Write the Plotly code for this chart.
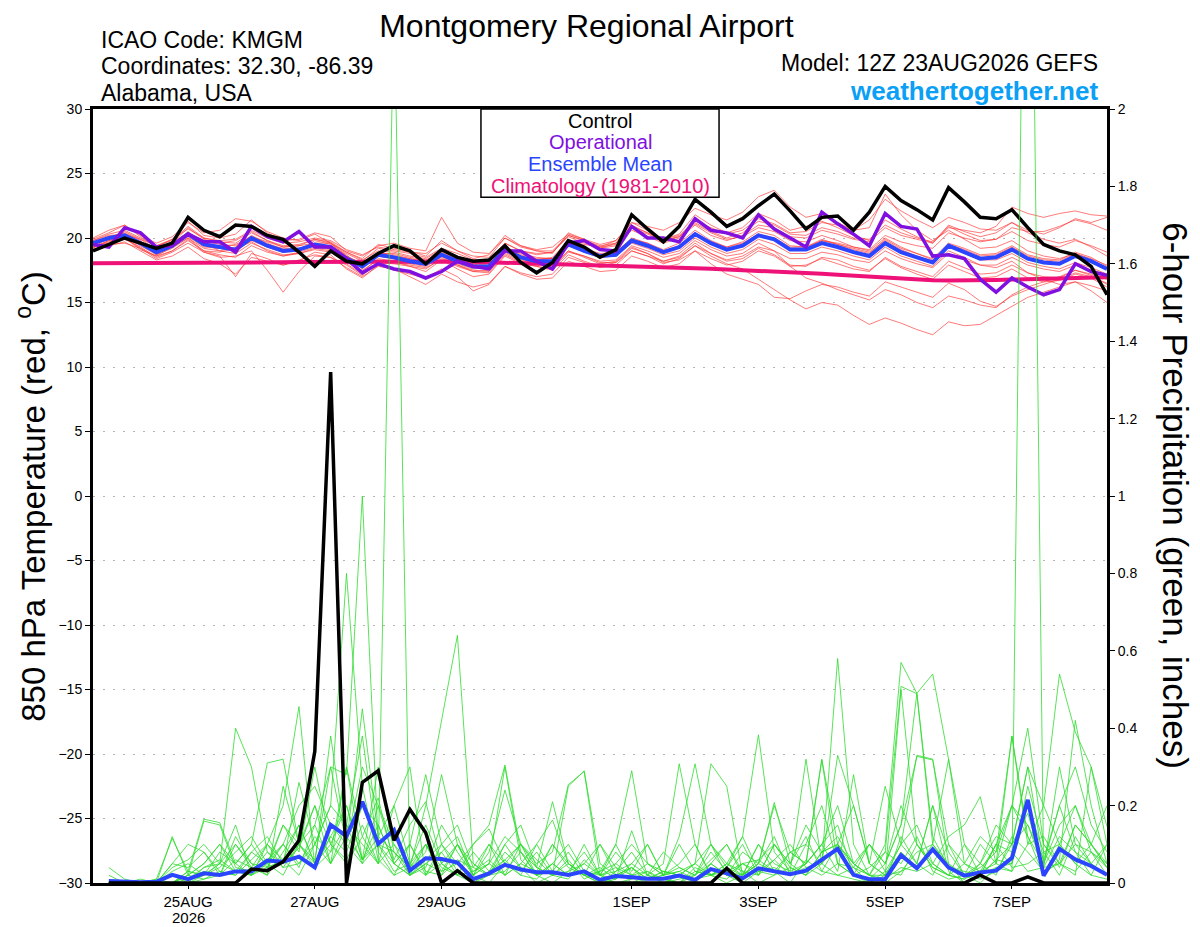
import pandas as pd
import plotly.graph_objects as go

# 6-hourly forecast times, 12Z 23AUG2026 run out to 384 h
times = pd.date_range("2026-08-23 12:00", periods=65, freq="6h")
precip_times = times[1:]

tick_dates = ["2026-08-25", "2026-08-27", "2026-08-29", "2026-09-01",
              "2026-09-03", "2026-09-05", "2026-09-07"]
tick_labels = ["25AUG", "27AUG", "29AUG", "1SEP", "3SEP", "5SEP", "7SEP"]
precip_ticks = [0, 0.2, 0.4, 0.6, 0.8, 1, 1.2, 1.4, 1.6, 1.8, 2]
precip_labels = ["0", "0.2", "0.4", "0.6", "0.8", "1", "1.2", "1.4", "1.6", "1.8", "2"]

# 850 hPa temperature (C)
control_t = [19.0, 19.5, 20.0, 19.6, 19.2, 19.6, 21.6, 20.6, 20.1, 21.0,
             20.9, 20.2, 19.9, 18.9, 17.8, 19.0, 18.2, 18.0, 18.8, 19.4,
             19.0, 18.0, 19.1, 18.5, 18.2, 18.3, 19.4, 18.1, 17.3, 18.1,
             19.8, 19.3, 18.5, 19.1, 21.8, 20.7, 19.7, 20.9, 23.0, 22.0,
             20.9, 21.5, 22.5, 23.4, 22.1, 20.7, 21.6, 21.7, 20.6, 22.0,
             24.0, 22.9, 22.2, 21.4, 23.9, 22.8, 21.6, 21.5, 22.2, 20.8,
             19.5, 19.0, 18.7, 17.8, 15.6]
oper_t = [19.5, 19.3, 20.8, 20.4, 19.3, 19.4, 20.3, 19.7, 19.7, 18.9,
          20.9, 20.1, 19.7, 20.5, 19.3, 19.3, 18.4, 17.3, 18.0, 17.6,
          17.4, 16.9, 17.4, 18.2, 17.8, 17.6, 19.0, 19.0, 18.2, 17.6,
          19.6, 19.8, 19.1, 19.0, 20.9, 20.0, 20.0, 19.7, 21.5, 20.6,
          20.4, 20.0, 21.8, 20.7, 20.0, 19.3, 22.0, 21.1, 20.3, 19.4,
          21.9, 20.9, 20.7, 18.6, 18.7, 18.4, 16.8, 15.8, 16.9, 16.2,
          15.6, 16.0, 18.0, 17.4, 17.1]
mean_t = [19.6, 20.0, 20.2, 19.6, 18.9, 19.4, 20.3, 19.5, 19.3, 19.1,
          20.0, 19.4, 19.0, 19.1, 19.5, 19.3, 18.4, 17.8, 18.7, 18.5,
          18.2, 18.0, 18.7, 18.2, 17.8, 17.8, 19.1, 18.5, 18.2, 18.2,
          19.5, 19.0, 18.6, 18.7, 19.8, 19.4, 18.9, 19.3, 20.3, 19.6,
          19.1, 19.4, 20.2, 19.9, 19.1, 19.1, 19.6, 19.3, 18.9, 18.6,
          19.6, 18.9, 18.5, 18.1, 19.4, 18.9, 18.4, 18.5, 19.1, 18.4,
          18.1, 18.0, 18.6, 18.2, 17.6]
clim_t = [18.05, 18.05, 18.06, 18.06, 18.07, 18.07, 18.08, 18.08, 18.09, 18.1,
          18.1, 18.11, 18.12, 18.13, 18.14, 18.15, 18.16, 18.17, 18.18, 18.19,
          18.2, 18.2, 18.2, 18.18, 18.15, 18.12, 18.09, 18.06, 18.03, 18.0,
          17.97, 17.94, 17.9, 17.86, 17.82, 17.78, 17.74, 17.7, 17.66, 17.62,
          17.57, 17.52, 17.48, 17.44, 17.37, 17.3, 17.22, 17.15, 17.07, 17.0,
          16.92, 16.85, 16.78, 16.72, 16.7, 16.7, 16.72, 16.75, 16.78, 16.8,
          16.83, 16.86, 16.89, 16.92, 16.95]

member_t = [
    [19.9, 20.4, 21.0, 20.2, 19.6, 20.1, 21.2, 20.4, 20.6, 21.5, 21.3, 20.5, 20.0, 19.8, 20.3, 19.6, 18.9,
     18.4, 19.5, 19.2, 19.0, 18.6, 19.8, 19.0, 18.4, 18.7, 20.2, 19.4, 19.0, 18.8, 20.4, 19.9, 19.2, 19.6,
     21.2, 20.6, 19.9, 20.3, 21.8, 21.0, 20.4, 20.8, 21.9, 21.4, 20.6, 20.9, 21.3, 20.8, 20.2, 19.8, 21.4,
     20.7, 20.1, 19.6, 21.0, 20.5, 20.1, 20.4, 21.2, 20.6, 20.3, 20.8, 21.5, 21.2, 21.6],
    [19.3, 19.8, 20.0, 19.2, 18.6, 19.0, 19.8, 19.0, 18.7, 18.5, 19.4, 18.9, 18.6, 18.8, 19.2, 19.0, 18.0,
     17.2, 18.0, 18.2, 17.8, 17.4, 18.3, 17.6, 17.0, 17.2, 18.6, 18.0, 17.8, 17.5, 18.7, 18.2, 17.8, 18.1,
     19.0, 18.6, 18.0, 18.4, 19.4, 18.6, 18.0, 17.6, 16.8, 16.0, 15.2, 14.5, 15.0, 14.8, 14.0, 13.3, 13.8,
     13.4, 12.9, 12.5, 13.5, 13.2, 13.3, 14.0, 14.7, 15.4, 15.8, 16.2, 16.6, 16.3, 15.9],
    [19.5, 20.1, 20.4, 19.8, 18.7, 19.5, 20.5, 19.6, 19.0, 19.3, 20.2, 19.6, 19.1, 19.0, 19.8, 19.5, 18.7,
     17.6, 18.9, 18.7, 18.4, 18.2, 19.0, 18.5, 18.0, 17.6, 19.3, 18.7, 18.4, 18.4, 19.8, 19.2, 18.7, 18.9,
     20.0, 19.6, 19.1, 19.6, 20.6, 19.8, 19.3, 19.7, 20.5, 20.2, 19.4, 19.3, 19.9, 19.5, 19.1, 18.8, 19.9,
     19.2, 18.8, 18.4, 19.6, 19.2, 18.7, 18.8, 19.4, 18.7, 18.4, 18.3, 18.9, 18.5, 17.8],
    [19.7, 20.0, 20.3, 19.7, 19.2, 19.6, 20.8, 19.9, 19.6, 19.8, 20.5, 19.8, 19.3, 19.4, 19.9, 19.6, 18.8,
     18.2, 19.2, 19.0, 18.8, 18.5, 19.2, 18.8, 18.3, 18.2, 19.6, 19.0, 18.8, 18.9, 20.1, 19.6, 19.2, 19.4,
     20.6, 20.1, 19.6, 20.0, 21.0, 20.2, 19.8, 20.2, 21.0, 20.8, 20.1, 20.0, 20.6, 20.3, 19.9, 19.7, 20.8,
     20.2, 19.9, 19.6, 20.8, 20.6, 20.4, 20.9, 22.4, 21.9, 21.6, 21.9, 22.1, 21.8, 21.7],
    [19.4, 19.6, 19.9, 19.3, 18.5, 19.0, 19.9, 18.9, 18.6, 17.0, 18.8, 18.4, 17.9, 18.2, 18.9, 18.7, 17.6,
     16.9, 17.9, 17.5, 17.2, 16.9, 17.6, 17.0, 15.9, 16.4, 17.8, 17.2, 16.8, 16.9, 18.2, 17.8, 17.4, 17.5,
     18.6, 18.2, 17.7, 18.0, 19.0, 18.4, 17.9, 18.2, 19.0, 18.6, 17.8, 17.9, 18.4, 18.0, 17.6, 17.4, 18.5,
     17.8, 17.4, 17.0, 18.2, 17.7, 17.2, 17.3, 17.9, 17.3, 17.0, 16.9, 17.5, 17.1, 16.4],
    [19.0, 19.5, 19.6, 19.2, 18.4, 18.9, 19.6, 18.9, 18.5, 18.6, 19.0, 17.5, 15.8, 17.4, 18.6, 18.5, 17.9,
     17.1, 18.1, 18.0, 17.8, 17.6, 18.4, 17.9, 17.4, 17.3, 18.7, 18.1, 17.8, 17.6, 18.9, 18.6, 18.2, 18.3,
     19.4, 19.0, 18.5, 18.8, 19.8, 19.1, 18.6, 18.8, 19.6, 19.0, 17.8, 16.9, 16.5, 16.0, 15.6, 15.2, 16.0,
     15.6, 15.0, 14.6, 15.5, 15.2, 14.8, 14.6, 15.6, 16.2, 16.6, 17.0, 17.5, 17.2, 16.8],
    [20.0, 20.6, 21.0, 20.1, 19.3, 19.9, 21.3, 20.2, 20.0, 20.3, 21.4, 20.4, 19.8, 19.9, 20.4, 20.1, 19.0,
     18.6, 19.4, 19.6, 19.2, 19.0, 21.6, 19.6, 18.9, 18.8, 20.0, 19.3, 19.0, 19.0, 20.2, 19.8, 19.3, 19.5,
     20.8, 20.3, 19.8, 20.1, 21.2, 20.5, 20.0, 20.4, 21.3, 21.0, 20.3, 20.2, 20.8, 20.5, 20.0, 19.9, 21.0,
     20.4, 20.0, 19.7, 20.9, 20.3, 19.8, 19.9, 20.5, 19.8, 19.5, 19.3, 19.8, 19.4, 18.9],
    [19.2, 19.8, 20.1, 19.5, 18.8, 19.3, 20.2, 19.4, 19.2, 19.0, 19.8, 19.3, 18.9, 19.0, 19.4, 19.2, 18.3,
     17.8, 18.6, 18.4, 18.1, 17.9, 18.6, 18.1, 17.7, 17.9, 19.2, 18.6, 18.3, 18.5, 19.8, 19.5, 19.3, 19.8,
     21.2, 20.9, 20.6, 21.2, 22.3, 21.8, 21.4, 22.0, 23.2, 23.7, 22.4, 21.6, 21.9, 21.2, 20.6, 20.8, 23.4,
     21.8, 20.6, 19.8, 20.6, 19.9, 19.2, 19.3, 19.8, 19.0, 18.6, 18.4, 18.8, 18.3, 17.6],
    [19.3, 19.7, 20.0, 19.4, 18.7, 19.2, 20.0, 19.2, 19.0, 18.8, 19.6, 19.1, 18.7, 18.8, 19.1, 18.9, 18.1,
     17.5, 18.3, 18.1, 17.9, 17.7, 18.3, 17.8, 17.4, 17.5, 18.8, 18.2, 17.9, 17.8, 19.0, 18.6, 18.1, 18.1,
     19.2, 18.8, 18.1, 18.3, 19.0, 18.0, 17.2, 16.8, 16.4, 15.4, 15.3, 15.9, 16.4, 16.2, 15.8, 15.5, 16.6,
     16.2, 15.8, 15.4, 16.5, 16.0, 15.1, 14.7, 15.5, 16.0, 16.4, 16.8, 17.3, 17.0, 16.5],
    [19.8, 20.2, 20.3, 19.9, 19.1, 19.7, 20.4, 19.8, 19.5, 19.4, 20.1, 19.7, 19.3, 19.4, 19.6, 19.6, 18.6,
     18.0, 18.8, 18.8, 18.5, 18.3, 18.9, 18.4, 18.0, 18.0, 19.3, 18.8, 18.5, 18.4, 19.6, 19.2, 18.8, 18.9,
     19.9, 19.6, 19.0, 19.4, 20.4, 19.7, 19.3, 19.6, 20.3, 20.0, 19.3, 19.3, 19.8, 19.5, 19.2, 18.9, 19.8,
     19.1, 18.6, 18.2, 19.5, 19.1, 18.6, 18.7, 19.3, 18.6, 18.3, 18.2, 18.8, 18.4, 17.9],
    [19.6, 19.9, 20.1, 19.6, 19.0, 19.5, 20.3, 19.6, 19.3, 19.5, 20.1, 19.5, 19.2, 19.2, 19.5, 19.4, 18.6,
     18.0, 18.8, 18.6, 18.4, 18.1, 18.8, 18.3, 17.9, 18.0, 19.3, 18.6, 18.3, 18.4, 19.6, 19.1, 18.7, 18.8,
     19.9, 19.5, 19.0, 19.3, 20.3, 19.7, 19.2, 19.5, 20.3, 19.9, 19.2, 19.2, 19.8, 19.6, 19.3, 19.1, 20.2,
     19.7, 19.4, 19.2, 20.4, 20.0, 19.7, 19.9, 20.8, 20.5, 20.5, 20.9, 21.4, 21.1, 20.6],
    [19.5, 19.9, 20.2, 19.5, 18.9, 19.4, 20.1, 19.3, 19.2, 19.0, 19.9, 19.3, 18.9, 19.1, 19.4, 19.2, 18.4,
     17.7, 18.6, 18.4, 18.1, 17.9, 18.6, 18.0, 17.6, 17.7, 19.0, 18.4, 18.0, 18.1, 19.4, 18.9, 18.5, 18.6,
     19.6, 19.2, 18.7, 19.0, 20.0, 19.3, 18.8, 19.1, 19.9, 19.5, 18.8, 18.8, 19.3, 19.0, 18.6, 18.3, 19.3,
     18.6, 18.2, 17.8, 19.0, 18.5, 17.9, 17.7, 18.2, 17.3, 16.8, 16.4, 16.6, 15.9, 15.0],
    [19.1, 19.6, 20.5, 19.9, 19.4, 19.8, 20.9, 20.0, 19.8, 19.9, 20.6, 20.0, 19.6, 19.7, 20.0, 19.8, 19.1,
     18.7, 19.3, 19.1, 18.9, 18.8, 19.6, 19.0, 18.6, 18.5, 20.0, 19.4, 19.1, 19.3, 20.3, 19.9, 19.5, 19.8,
     21.0, 20.4, 19.8, 20.1, 21.1, 20.4, 19.9, 20.1, 20.8, 20.5, 19.8, 19.7, 20.2, 19.8, 19.3, 19.0, 20.0,
     19.3, 18.8, 18.3, 19.4, 18.8, 18.3, 18.3, 18.8, 18.1, 17.8, 17.6, 18.1, 17.7, 17.2],
    [19.0, 19.4, 19.7, 19.0, 18.3, 18.6, 19.3, 18.4, 18.0, 17.2, 18.5, 18.2, 17.9, 18.3, 18.7, 18.5, 17.7,
     17.0, 17.8, 17.6, 17.0, 16.4, 17.2, 16.6, 16.2, 16.5, 17.8, 17.3, 17.0, 17.2, 18.5, 18.1, 17.7, 17.9,
     19.0, 18.6, 18.2, 18.5, 19.4, 18.8, 18.3, 18.6, 19.3, 19.0, 18.4, 18.4, 18.9, 18.7, 18.3, 18.1, 19.0,
     18.4, 18.0, 17.7, 18.8, 18.3, 17.9, 17.9, 18.5, 17.9, 17.6, 17.4, 17.9, 17.5, 17.0],
    [19.8, 20.3, 20.6, 20.0, 19.4, 19.9, 20.7, 20.0, 19.7, 19.6, 20.4, 19.8, 19.4, 19.5, 19.9, 19.7, 18.9,
     18.3, 19.0, 18.9, 18.6, 18.4, 19.1, 18.6, 18.2, 18.3, 19.6, 19.0, 18.7, 18.9, 20.2, 19.8, 19.4, 19.6,
     20.9, 20.4, 19.9, 20.2, 21.3, 20.8, 20.3, 20.6, 21.5, 21.1, 20.4, 20.5, 21.2, 21.0, 20.6, 21.4, 23.0,
     22.1, 21.4, 20.8, 21.6, 21.2, 20.7, 20.6, 21.2, 20.4, 19.9, 19.6, 19.9, 19.3, 18.6],
    [19.2, 20.1, 20.0, 19.1, 18.6, 19.3, 20.0, 19.0, 18.9, 19.2, 19.7, 19.0, 18.6, 18.9, 19.3, 19.1, 18.2,
     17.4, 18.4, 18.2, 18.0, 17.8, 18.5, 17.9, 17.5, 17.4, 18.9, 18.3, 18.0, 17.7, 19.0, 18.5, 18.0, 18.2,
     19.3, 18.8, 18.2, 18.6, 19.6, 18.8, 18.2, 18.4, 19.2, 18.7, 17.9, 17.8, 18.5, 18.3, 17.8, 17.5, 18.4,
     17.7, 17.2, 16.8, 17.9, 17.4, 16.9, 17.0, 17.6, 16.9, 16.6, 16.7, 17.2, 16.9, 16.2],
]

# 6-hour precipitation (inches), valid 18Z 23AUG onward
control_p = [0, 0, 0, 0, 0, 0, 0, 0, 0, 0.036,
             0.032, 0.055, 0.11, 0.34, 1.32, 0, 0.26, 0.29, 0.11, 0.19,
             0.13, 0, 0.032, 0, 0, 0, 0, 0, 0, 0,
             0, 0, 0, 0, 0, 0, 0, 0, 0, 0.038,
             0, 0, 0, 0, 0, 0, 0, 0, 0, 0,
             0, 0, 0, 0, 0, 0.02, 0, 0, 0.016, 0,
             0, 0, 0, 0]
mean_p = [0.005, 0.003, 0.002, 0.003, 0.021, 0.01, 0.025, 0.021, 0.03, 0.03,
          0.058, 0.055, 0.068, 0.04, 0.15, 0.121, 0.21, 0.101, 0.137, 0.032,
          0.064, 0.062, 0.053, 0.01, 0.025, 0.047, 0.035, 0.028, 0.028, 0.021,
          0.03, 0.008, 0.018, 0.015, 0.011, 0.011, 0.019, 0.008, 0.036, 0.025,
          0.012, 0.038, 0.03, 0.023, 0.032, 0.06, 0.088, 0.021, 0.01, 0.01,
          0.072, 0.038, 0.087, 0.04, 0.019, 0.027, 0.032, 0.065, 0.215, 0.019,
          0.088, 0.061, 0.044, 0.021]

member_p = [
    [0, 0, 0, 0, 0.02, 0, 0.04, 0.06, 0.03, 0.08, 0.12, 0.05, 0.09, 0.2, 0.1, 0.06, 0.15, 0.05, 2.3, 0.02,
     0.06, 0.1, 0.03, 0, 0.02, 0.08, 0.04, 0, 0.02, 0.05, 0.02, 0, 0.01, 0.04, 0, 0, 0.02, 0, 0.05, 0.02,
     0, 0.03, 0.06, 0.02, 0.05, 0.1, 0.15, 0.02, 0, 0, 0.12, 0.05, 0.2, 0.03, 0, 0.02, 0.06, 0.1, 0.18, 0.04,
     0.12, 0.08, 0.05, 0.02],
    [0, 0, 0, 0.01, 0, 0.03, 0.02, 0.08, 0.05, 0.1, 0.04, 0.15, 0.1, 0.06, 0.3, 0.1, 0.45, 0.12, 0.2, 0.05,
     0.02, 0.08, 0.12, 0.02, 0, 0.05, 0.1, 0.02, 0, 0.03, 0.08, 0.02, 0, 0.01, 0.03, 0, 0, 0.02, 0.05, 0.1,
     0.03, 0, 0.02, 0.04, 0.02, 0.08, 0.12, 0.05, 0.02, 0, 0.03, 0.08, 0.1, 0.04, 0.02, 0, 0.04, 0.03, 3.5, 0.02,
     0.1, 0.2, 0.08, 0.04],
    [0, 0, 0, 0, 0, 0, 0.02, 0.05, 0.03, 0.02, 0.06, 0.1, 0.04, 0.15, 0.3, 0.28, 1.0, 0.1, 0.05, 0.02,
     0.1, 0.04, 0.02, 0, 0.03, 0.06, 0.02, 0.01, 0.05, 0.02, 0.03, 0.01, 0, 0, 0.02, 0.01, 0, 0.03, 0.02, 0,
     0.02, 0.05, 0.03, 0, 0.06, 0.03, 0.1, 0.04, 0, 0.02, 0.5, 0.1, 0.04, 0.02, 0.01, 0.03, 0.05, 0.38, 0.12, 0.02,
     0.06, 0.42, 0.2, 0.05],
    [0.04, 0.01, 0, 0, 0.12, 0.02, 0.16, 0.15, 0.04, 0.03, 0.08, 0.05, 0.26, 0.1, 0.2, 0.8, 0.25, 0.06, 0.02, 0.1,
     0.02, 0.05, 0.1, 0.03, 0.05, 0.12, 0.08, 0.02, 0.1, 0.04, 0.02, 0, 0.03, 0.08, 0.02, 0, 0.01, 0.02, 0.08, 0.03,
     0.02, 0.1, 0.05, 0.03, 0.32, 0.05, 0.02, 0.01, 0, 0.03, 0.1, 0.33, 0.32, 0.05, 0, 0.02, 0.1, 0.08, 0.03, 0.04,
     0.3, 0.1, 0.05, 0.02],
    [0, 0, 0, 0, 0, 0.03, 0.02, 0.05, 0.1, 0.04, 0.02, 0.08, 0.15, 0.05, 0.1, 0.2, 0.06, 0.12, 0.08, 0.04,
     0.2, 0.42, 0.64, 0.05, 0.02, 0.03, 0.08, 0.04, 0.02, 0.06, 0.01, 0.03, 0.1, 0.02, 0.01, 0.03, 0.02, 0.01, 0.02, 0.04,
     0.1, 0.02, 0.06, 0.1, 0.04, 0.02, 0.05, 0.02, 0.04, 0.08, 0.05, 0.12, 0.03, 0.01, 0.02, 0.01, 0.03, 0.1, 0.15, 0.06,
     0.2, 0.08, 0.02, 0.01],
    [0, 0, 0.01, 0, 0.05, 0.04, 0.08, 0.03, 0.02, 0.06, 0.1, 0.2, 0.456, 0.04, 0.08, 0.3, 0.12, 0.05, 0.1, 0.02,
     0.04, 0.15, 0.08, 0.02, 0.1, 0.05, 0.03, 0.08, 0.02, 0.01, 0.06, 0.02, 0.04, 0, 0.01, 0.02, 0.03, 0.05, 0.02, 0.01,
     0.05, 0.03, 0.02, 0.08, 0.1, 0.2, 0.05, 0.04, 0.02, 0.1, 0.57, 0.49, 0.12, 0.04, 0.03, 0.02, 0.06, 0.05, 0.25, 0.1,
     0.04, 0.15, 0.1, 0.04],
    [0, 0, 0, 0, 0.02, 0.01, 0.04, 0.05, 0.4, 0.3, 0.08, 0.04, 0.1, 0.2, 0.05, 0.15, 0.38, 0.08, 0.02, 0.04,
     0.08, 0.28, 0.1, 0.02, 0.05, 0.3, 0.06, 0.02, 0.03, 0.08, 0.02, 0.01, 0.05, 0.02, 0.03, 0.01, 0, 0.04, 0.02, 0.05,
     0.12, 0.03, 0.04, 0.02, 0.1, 0.05, 0.58, 0.1, 0.02, 0.01, 0.04, 0.03, 0.05, 0.02, 0.01, 0.05, 0.02, 0.12, 0.08, 0.03,
     0.05, 0.02, 0.3, 0.1],
    [0, 0, 0, 0, 0, 0.02, 0.05, 0.1, 0.05, 0.1, 0.31, 0.32, 0.1, 0.05, 0.12, 0.08, 0.2, 0.15, 0.05, 0.1,
     0.03, 0.02, 0.1, 0.05, 0.02, 0.1, 0.15, 0.04, 0.02, 0.25, 0.29, 0.05, 0.02, 0.04, 0.01, 0.02, 0.1, 0.03, 0.02, 0.04,
     0.02, 0.05, 0.2, 0.08, 0.05, 0.32, 0.1, 0.02, 0.01, 0.05, 0.15, 0.49, 0.54, 0.32, 0.1, 0.02, 0.04, 0.05, 0.2, 0.08,
     0.1, 0.05, 0.1, 0.04],
    [0, 0, 0, 0.01, 0.115, 0.03, 0.165, 0.156, 0.05, 0.02, 0.04, 0.06, 0.02, 0.1, 0.05, 0.12, 0.06, 0.3, 0.08, 0.04,
     0.1, 0.03, 0.05, 0.1, 0.15, 0.305, 0.08, 0.02, 0.05, 0.1, 0.03, 0.02, 0.01, 0.05, 0.1, 0.02, 0.12, 0.308, 0.1, 0.02,
     0.05, 0.06, 0.03, 0.02, 0.04, 0.05, 0.33, 0.2, 0.05, 0.02, 0.08, 0.04, 0.1, 0.32, 0.05, 0.03, 0.1, 0.04, 0.05, 0.08,
     0.02, 0.12, 0.05, 0.1],
    [0, 0, 0, 0, 0, 0.01, 0.03, 0.02, 0.06, 0.04, 0.1, 0.06, 0.15, 0.05, 0.38, 0.1, 0.05, 0.2, 0.06, 0.15,
     0.21, 0.05, 0.02, 0.03, 0.06, 0.02, 0.05, 0.1, 0.03, 0.02, 0.05, 0.1, 0.02, 0.04, 0.01, 0.03, 0.02, 0.05, 0.1, 0.04,
     0.12, 0.383, 0.08, 0.03, 0.05, 0.1, 0.03, 0.28, 0.05, 0.02, 0.03, 0.05, 0.02, 0.1, 0.02, 0.04, 0.08, 0.379, 0.1, 0.2,
     0.54, 0.39, 0.3, 0.146],
    [0, 0, 0, 0, 0, 0, 0.01, 0.02, 0.1, 0.05, 0.04, 0.1, 0.05, 0.12, 0.08, 0.15, 0.1, 0.05, 0.2, 0.3,
     0.02, 0.1, 0.15, 0.04, 0.02, 0.06, 0.1, 0.05, 0.08, 0.254, 0.288, 0.02, 0.1, 0.29, 0.05, 0.02, 0.04, 0.02, 0.06, 0.1,
     0.02, 0.05, 0.208, 0.05, 0.12, 0.03, 0.02, 0.04, 0.1, 0.03, 0.02, 0.1, 0.05, 0.12, 0.15, 0.223, 0.05, 0.03, 0.1, 0.12,
     0.05, 0.03, 0.08, 0.02],
    [0, 0, 0, 0, 0, 0.02, 0.01, 0.03, 0.02, 0.08, 0.05, 0.02, 0.1, 0.04, 0.12, 0.2, 0.06, 0.15, 0.05, 0.02,
     0.05, 0.08, 0.02, 0.1, 0.14, 0.05, 0.02, 0.1, 0.163, 0.05, 0.02, 0.04, 0.01, 0.135, 0.02, 0.05, 0.308, 0.1, 0.02, 0.05,
     0.03, 0.02, 0.1, 0.05, 0.02, 0.08, 0.1, 0.05, 0.02, 0.08, 0.508, 0.489, 0.1, 0.05, 0.02, 0.1, 0.05, 0.2, 0.15, 0.04,
     0.05, 0.1, 0.08, 0.05],
    [0, 0, 0, 0, 0.03, 0.05, 0.02, 0.04, 0.08, 0.12, 0.05, 0.15, 0.08, 0.3, 0.1, 0.05, 0.12, 0.22, 0.05, 0.1,
     0.28, 0.1, 0.05, 0.02, 0.08, 0.24, 0.1, 0.04, 0.21, 0.05, 0.02, 0.1, 0.04, 0.02, 0.05, 0.03, 0.02, 0.05, 0.308, 0.25,
     0.02, 0.1, 0.03, 0.08, 0.05, 0.318, 0.05, 0.02, 0.1, 0.05, 0.15, 0.327, 0.318, 0.1, 0.05, 0.02, 0.1, 0.2, 0.12, 0.05,
     0.2, 0.3, 0.15, 0.08],
    [0, 0, 0, 0, 0.05, 0.1, 0.08, 0.02, 0.12, 0.05, 0.02, 0.25, 0.1, 0.15, 0.05, 0.3, 0.06, 0.1, 0.08, 0.02,
     0.05, 0.03, 0.1, 0.02, 0.05, 0.02, 0.1, 0.06, 0.02, 0.03, 0.05, 0.02, 0.08, 0.03, 0.1, 0.02, 0.05, 0.1, 0.02, 0.03,
     0.05, 0.02, 0.1, 0.04, 0.02, 0.05, 0.1, 0.2, 0.05, 0.25, 0.1, 0.05, 0.2, 0.08, 0.02, 0.05, 0.12, 0.1, 0.3, 0.2,
     0.1, 0.05, 0.02, 0.1],
    [0, 0, 0, 0, 0, 0.02, 0.05, 0.1, 0.03, 0.02, 0.1, 0.04, 0.05, 0.1, 0.2, 0.15, 0.05, 0.1, 0.03, 0.05,
     0.1, 0.02, 0.06, 0.04, 0.1, 0.02, 0.05, 0.03, 0.1, 0.05, 0.02, 0.03, 0.05, 0.1, 0.05, 0.02, 0.03, 0.01, 0.05, 0.02,
     0.08, 0.05, 0.12, 0.02, 0.05, 0.1, 0.2, 0.05, 0.1, 0.05, 0.2, 0.1, 0.04, 0.02, 0.1, 0.05, 0.15, 0.1, 0.3, 0.05,
     0.15, 0.2, 0.1, 0.2],
    [0.02, 0, 0, 0, 0.04, 0.06, 0.1, 0.05, 0.15, 0.02, 0.05, 0.1, 0.2, 0.25, 0.15, 0.1, 0.3, 0.2, 0.1, 0.05,
     0.15, 0.05, 0.02, 0.08, 0.03, 0.1, 0.04, 0.02, 0.05, 0.02, 0.1, 0.02, 0.03, 0.05, 0.02, 0.08, 0.04, 0.02, 0.1, 0.05,
     0.02, 0.06, 0.1, 0.05, 0.15, 0.08, 0.1, 0.05, 0.02, 0.02, 0.1, 0.15, 0.05, 0.02, 0.05, 0.12, 0.08, 0.2, 0.4, 0.1,
     0.05, 0.15, 0.1, 0.05],
]

FONT = "Liberation Sans, Arial, sans-serif"
PURPLE = "#8010e0"
BLUE = "#2a44ff"
MAGENTA = "#ee1177"

fig = go.Figure()

# ensemble members, temperature (red) and precipitation (green)
for m in member_t:
    fig.add_trace(go.Scatter(x=times, y=m, mode="lines",
                             line=dict(color="rgba(255,45,45,0.8)", width=0.8),
                             hoverinfo="skip", showlegend=False))
fig.add_trace(go.Scatter(x=times, y=clim_t, mode="lines",
                         line=dict(color=MAGENTA, width=4), showlegend=False))
fig.add_trace(go.Scatter(x=times, y=mean_t, mode="lines",
                         line=dict(color=BLUE, width=4), showlegend=False))
fig.add_trace(go.Scatter(x=times, y=oper_t, mode="lines",
                         line=dict(color=PURPLE, width=3.5), showlegend=False))
fig.add_trace(go.Scatter(x=times, y=control_t, mode="lines",
                         line=dict(color="black", width=3.5), showlegend=False))

for p in member_p:
    fig.add_trace(go.Scatter(x=precip_times, y=p, yaxis="y2", mode="lines",
                             line=dict(color="#2fdc2f", width=0.8),
                             hoverinfo="skip", showlegend=False))
fig.add_trace(go.Scatter(x=precip_times, y=mean_p, yaxis="y2", mode="lines",
                         line=dict(color=BLUE, width=4), showlegend=False))
fig.add_trace(go.Scatter(x=precip_times, y=control_p, yaxis="y2", mode="lines",
                         line=dict(color="black", width=3.5), showlegend=False))

# legend box drawn by hand, as in the original
fig.add_shape(type="rect", xref="paper", yref="paper", x0=0.3826, x1=0.6174,
              y0=0.886, y1=1.0, fillcolor="white", line=dict(color="black", width=1.5),
              layer="above")
legend_items = [("Control", "black", 0.9845), ("Operational", PURPLE, 0.957),
                ("Ensemble Mean", BLUE, 0.9289), ("Climatology (1981-2010)", MAGENTA, 0.9005)]
for txt, col, yy in legend_items:
    fig.add_annotation(text=txt, x=0.5, y=yy, xref="paper", yref="paper",
                       xanchor="center", yanchor="middle", showarrow=False,
                       font=dict(size=20, color=col, family=FONT))

# header text
for txt, yy in [("ICAO Code: KMGM", 1.0891), ("Coordinates: 32.30, -86.39", 1.0556),
                ("Alabama, USA", 1.0207)]:
    fig.add_annotation(text=txt, x=0.006, y=yy, xref="paper", yref="paper",
                       xanchor="left", yanchor="middle", showarrow=False,
                       font=dict(size=23, color="black", family=FONT))
fig.add_annotation(text="Model: 12Z 23AUG2026 GEFS", x=0.993, y=1.0594, xref="paper",
                   yref="paper", xanchor="right", yanchor="middle", showarrow=False,
                   font=dict(size=23, color="black", family=FONT))
fig.add_annotation(text="<b>weathertogether.net</b>", x=0.993, y=1.0233, xref="paper",
                   yref="paper", xanchor="right", yanchor="middle", showarrow=False,
                   font=dict(size=26, color="#0aa0f5", family=FONT))

# year under the first date label
fig.add_annotation(text="2026", x=tick_dates[0], y=-0.0452, xref="x", yref="paper",
                   xanchor="center", yanchor="middle", showarrow=False,
                   font=dict(size=15, color="black", family=FONT))

# axis titles
fig.add_annotation(text="850 hPa Temperature (red, <sup>o</sup>C)", x=-0.084, y=0.5,
                   xref="paper", yref="paper", textangle=-90, showarrow=False,
                   font=dict(size=33, color="black", family=FONT))
fig.add_annotation(text="6-hour Precipitation (green, inches)", x=1.089, y=0.5,
                   xref="paper", yref="paper", textangle=90, showarrow=False,
                   font=dict(size=35, color="black", family=FONT))

fig.update_layout(
    width=1200, height=927,
    margin=dict(l=85, r=101, t=101, b=52),
    paper_bgcolor="white", plot_bgcolor="white",
    font=dict(family=FONT, color="black"),
    title=dict(text="Montgomery Regional Airport", x=0.482, y=0.9806,
               xanchor="center", yanchor="middle",
               font=dict(size=32, color="black", family=FONT)),
    xaxis=dict(range=[times[0], times[-1]], tickvals=tick_dates, ticktext=tick_labels,
               showgrid=False, zeroline=False, showline=True, linewidth=3,
               linecolor="black", mirror=True, ticks="outside", ticklen=3,
               tickcolor="black", tickfont=dict(size=15), automargin=False),
    yaxis=dict(range=[-30, 30], dtick=5, showgrid=True, gridcolor="#b4b4b4",
               griddash="2px,8px", gridwidth=1, zeroline=False, showline=True,
               linewidth=3, linecolor="black", ticks="outside", ticklen=5,
               tickcolor="black", tickfont=dict(size=14), automargin=False),
    yaxis2=dict(range=[0, 2], overlaying="y", side="right", tickvals=precip_ticks,
                ticktext=precip_labels, showgrid=False, zeroline=False, showline=True,
                linewidth=3, linecolor="black", ticks="outside", ticklen=5,
                tickcolor="black", tickfont=dict(size=14), automargin=False),
)

fig.write_html("out.html")
